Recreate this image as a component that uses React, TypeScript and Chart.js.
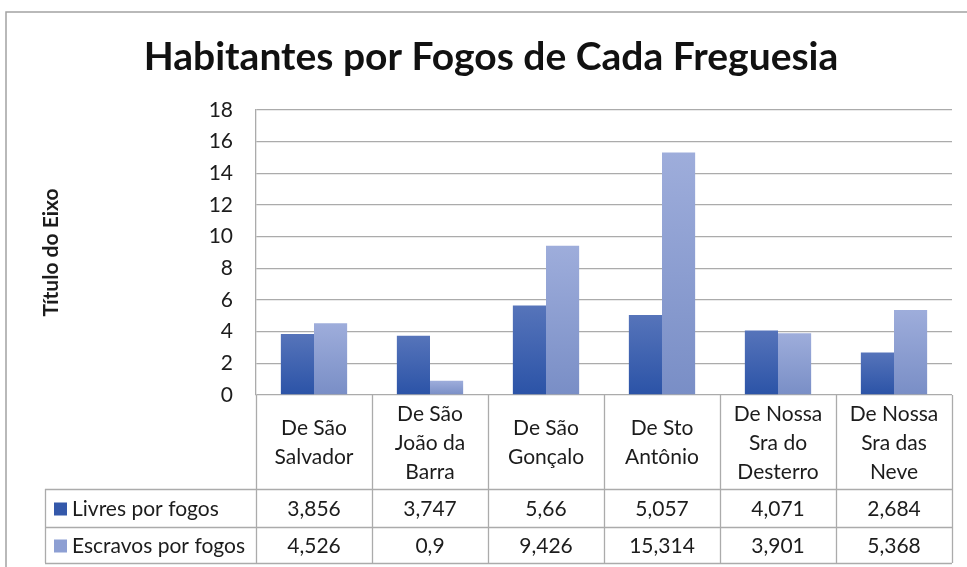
import React, { useEffect, useRef } from "react";
import { Chart, registerables } from "chart.js";

Chart.register(...registerables);

const chartTitle = "Habitantes por Fogos de Cada Freguesia";
const axisTitle = "Título do Eixo";
const categories: string[][] = [
  ["De São", "Salvador"],
  ["De São", "João da", "Barra"],
  ["De São", "Gonçalo"],
  ["De Sto", "Antônio"],
  ["De Nossa", "Sra do", "Desterro"],
  ["De Nossa", "Sra das", "Neve"],
];
const seriesNames = ["Livres por fogos", "Escravos por fogos"];
const livres = [3.856, 3.747, 5.66, 5.057, 4.071, 2.684];
const escravos = [4.526, 0.9, 9.426, 15.314, 3.901, 5.368];
const yMin = 0;
const yMax = 18;
const yStep = 2;

const FONT = "Lato, 'Open Sans', sans-serif";
const GRID = "#ababab";
const TEXT = "#1c1c1c";
const darkTop = "#5674ba";
const darkBottom = "#2b53a7";
const lightTop = "#9eaddb";
const lightBottom = "#798ec6";
const swatchColors = ["#3458aa", "#8d9fd3"];

function gradientFill(top: string, bottom: string) {
  return (ctx: any) => {
    const chart = ctx.chart;
    const area = chart.chartArea;
    const y = chart.scales && chart.scales.y;
    if (!area || !y || ctx.type !== "data") return bottom;
    const v = ctx.raw as number;
    const y0 = y.getPixelForValue(v);
    const y1 = y.getPixelForValue(0);
    if (!isFinite(y0) || !isFinite(y1) || y0 === y1) return bottom;
    const g = chart.ctx.createLinearGradient(0, y0, 0, y1);
    g.addColorStop(0, top);
    g.addColorStop(1, bottom);
    return g;
  };
}

const fmt = (v: number) => String(v).replace(".", ",");

const tablePlugin = {
  id: "excelTable",
  afterDraw(chart: any) {
    const ctx = chart.ctx as CanvasRenderingContext2D;
    const x = chart.scales.x;
    const area = chart.chartArea;
    const n = chart.data.labels.length;
    const colW = (area.right - area.left) / n;
    const top = area.bottom;
    const rowLabelBottom = top + 94;
    const row1Bottom = rowLabelBottom + 38;
    const row2Bottom = row1Bottom + 36;
    const legendLeft = 45;

    ctx.save();
    // outer frame
    ctx.strokeStyle = "#a3a3a3";
    ctx.lineWidth = 1.5;
    ctx.beginPath();
    ctx.moveTo(6, chart.height);
    ctx.lineTo(6, 12);
    ctx.lineTo(chart.width, 12);
    ctx.stroke();

    // title
    ctx.fillStyle = "#111";
    ctx.font = `bold 39px ${FONT}`;
    ctx.textAlign = "center";
    ctx.textBaseline = "middle";
    ctx.fillText(chart.options.plugins.customTitle.text, 491, 57);

    // table lines
    ctx.strokeStyle = GRID;
    ctx.lineWidth = 1.3;
    ctx.beginPath();
    for (let i = 0; i <= n; i++) {
      const xx = Math.round(area.left + i * colW) + 0.5;
      ctx.moveTo(xx, top);
      ctx.lineTo(xx, row2Bottom);
    }
    for (const yy of [rowLabelBottom, row1Bottom, row2Bottom]) {
      ctx.moveTo(legendLeft, yy + 0.5);
      ctx.lineTo(area.right, yy + 0.5);
    }
    ctx.moveTo(legendLeft + 0.5, rowLabelBottom);
    ctx.lineTo(legendLeft + 0.5, row2Bottom);
    ctx.stroke();

    // category labels
    ctx.fillStyle = TEXT;
    ctx.font = `21px ${FONT}`;
    ctx.textAlign = "center";
    ctx.textBaseline = "middle";
    const lh = 29;
    const midLabel = (top + rowLabelBottom) / 2 + 1;
    chart.data.labels.forEach((lab: string[], i: number) => {
      const cx = x.getPixelForValue(i);
      const lines = Array.isArray(lab) ? lab : [lab];
      const start = midLabel - ((lines.length - 1) * lh) / 2;
      lines.forEach((t, k) => ctx.fillText(t, cx, start + k * lh));
    });

    // data rows
    const rowMids = [(rowLabelBottom + row1Bottom) / 2 + 1, (row1Bottom + row2Bottom) / 2 + 1];
    chart.data.datasets.forEach((ds: any, r: number) => {
      const cy = rowMids[r];
      ctx.textAlign = "center";
      ds.data.forEach((v: number, i: number) => {
        ctx.fillText(fmt(v), x.getPixelForValue(i), cy);
      });
      ctx.fillStyle = swatchColors[r];
      ctx.fillRect(54, cy - 6.5, 13, 13);
      ctx.fillStyle = TEXT;
      ctx.textAlign = "left";
      ctx.fillText(ds.label, 72, cy);
    });
    ctx.restore();
  },
};

export default function App() {
  const ref = useRef<HTMLCanvasElement>(null);
  useEffect(() => {
    if (!ref.current) return;
    const chart = new Chart(ref.current, {
      type: "bar",
      data: {
        labels: categories,
        datasets: [
          {
            label: seriesNames[0],
            data: livres,
            backgroundColor: gradientFill(darkTop, darkBottom),
            categoryPercentage: 2 / 3.5,
            barPercentage: 1,
          },
          {
            label: seriesNames[1],
            data: escravos,
            backgroundColor: gradientFill(lightTop, lightBottom),
            categoryPercentage: 2 / 3.5,
            barPercentage: 1,
          },
        ],
      },
      options: {
        responsive: false,
        animation: false,
        layout: { padding: { top: 110, left: 0, right: 15, bottom: 0 } },
        plugins: {
          legend: { display: false },
          tooltip: { enabled: false },
          title: { display: false },
          customTitle: { text: chartTitle },
        } as any,
        scales: {
          x: {
            type: "category",
            grid: { display: false, drawTicks: false },
            border: { display: false },
            ticks: { display: false },
            afterFit: (s: any) => {
              s.height = 172;
            },
          },
          y: {
            min: yMin,
            max: yMax,
            grid: { color: GRID, lineWidth: 1.3, drawTicks: false },
            border: { display: true, color: GRID, width: 1.3 },
            ticks: {
              stepSize: yStep,
              padding: 23,
              color: TEXT,
              font: { family: FONT, size: 21 },
            },
            title: {
              display: true,
              text: axisTitle,
              color: TEXT,
              font: { family: FONT, size: 21, weight: "bold" },
              padding: { top: 39, bottom: 0 },
            },
            afterFit: (s: any) => {
              s.width = 256;
            },
          },
        },
      },
      plugins: [tablePlugin],
    });
    return () => chart.destroy();
  }, []);
  return (
    <div style={{ position: "fixed", left: 0, top: 0, width: 967, height: 567, background: "#fff" }}>
      <canvas ref={ref} width={967} height={567} style={{ display: "block" }} />
    </div>
  );
}
